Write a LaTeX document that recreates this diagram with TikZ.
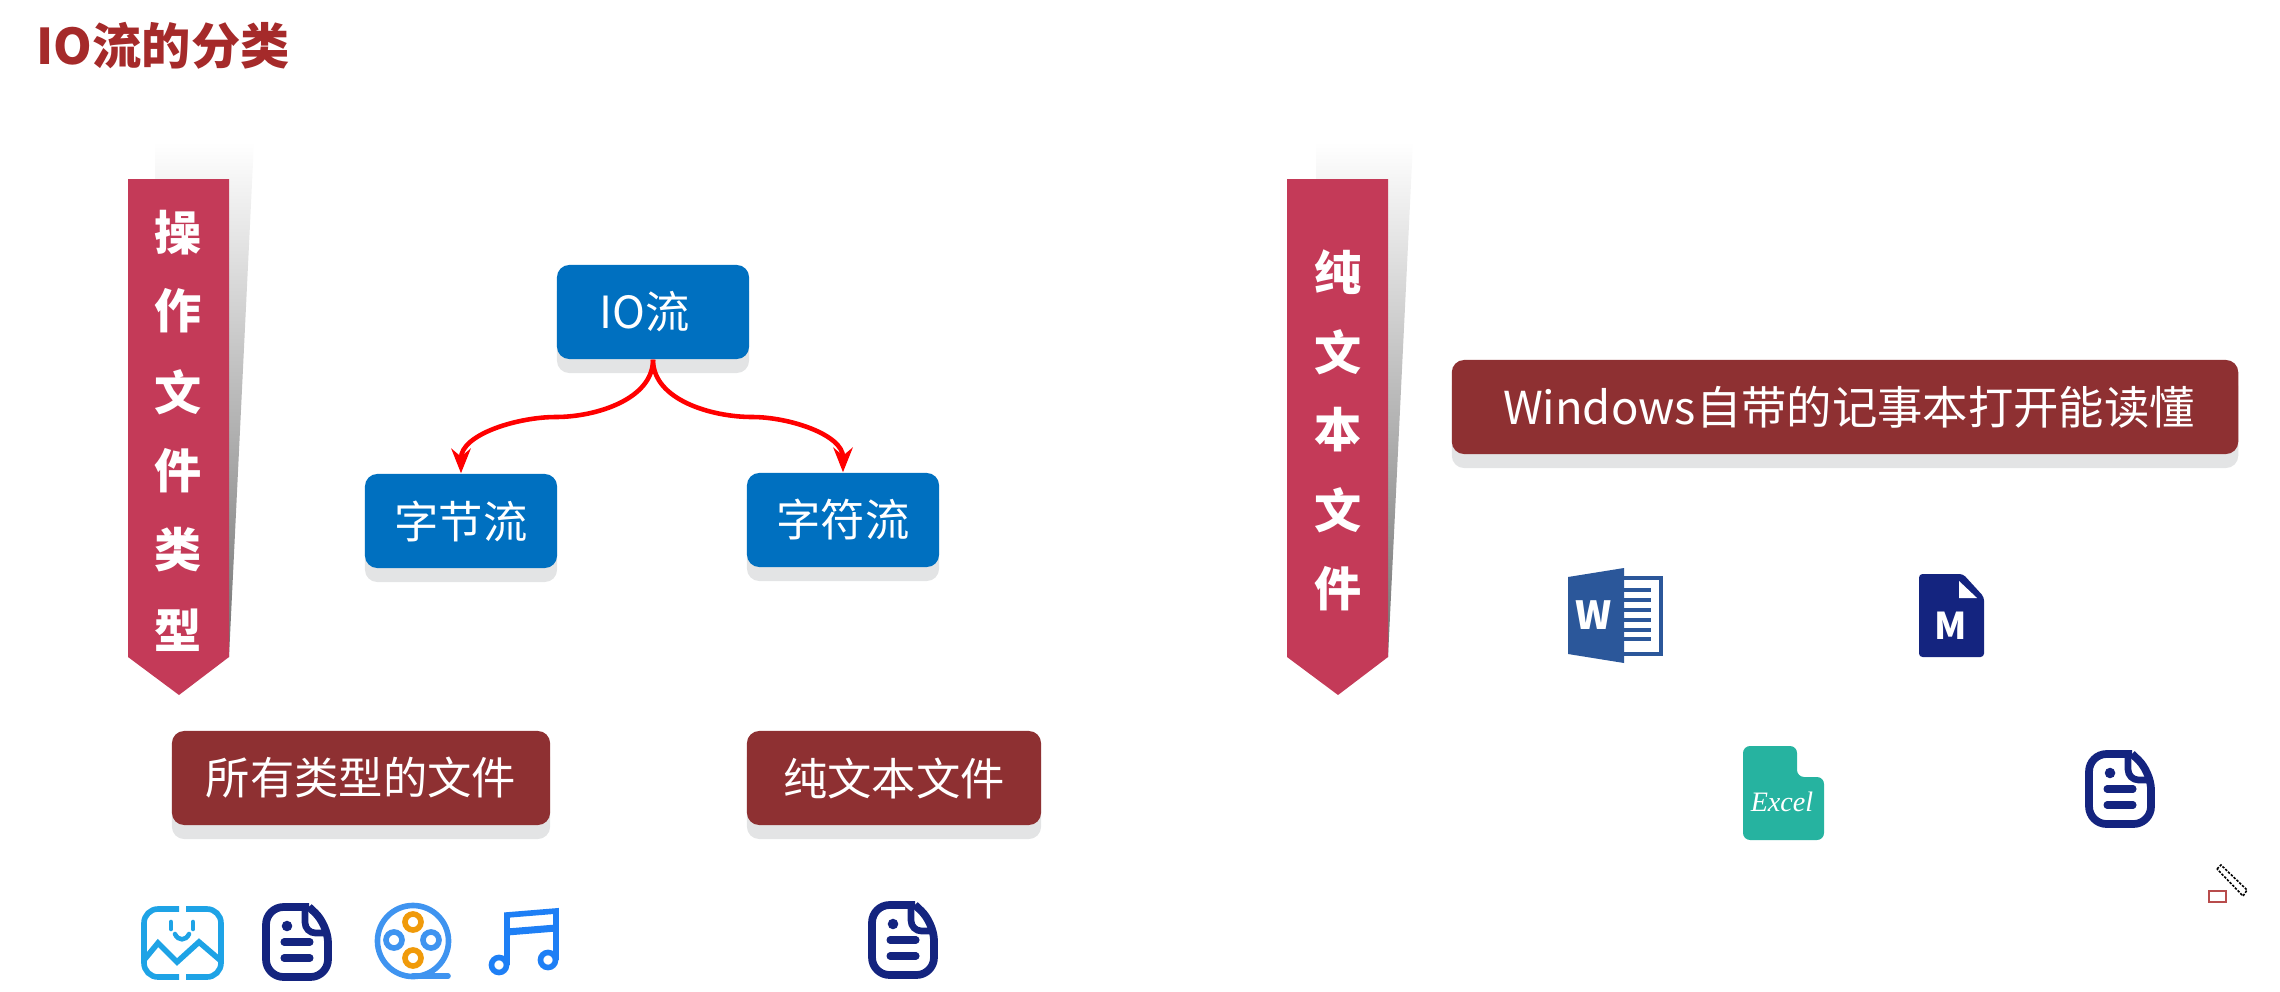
\documentclass[tikz,border=0pt]{standalone}
\usepackage{fontspec}
\usepackage{xcolor}
\setmainfont{Noto Sans CJK SC}
\newfontfamily\excelfont{Liberation Serif}
\usetikzlibrary{arrows.meta,shadows}
\definecolor{titlered}{HTML}{A52A2A}
\definecolor{ribbonred}{HTML}{C43A58}
\definecolor{flowblue}{HTML}{0070C0}
\definecolor{labelred}{HTML}{8E3032}
\definecolor{boxshade}{HTML}{E3E4E5}
\definecolor{docnavy}{HTML}{14247F}
\definecolor{photoblue}{HTML}{1EA3E6}
\definecolor{reelblue}{HTML}{3F94F0}
\definecolor{reelorange}{HTML}{F09A0A}
\definecolor{noteblue}{HTML}{1E7FF5}
\definecolor{wordblue}{HTML}{2B579A}
\definecolor{exceltea}{HTML}{26B3A0}
\tikzset{
  flowbox/.style={fill=flowblue,text=white,rounded corners=3.5pt,minimum width=1.92cm,minimum height=0.94cm,inner sep=0pt,font=\fontsize{12.6}{15}\selectfont,general shadow={fill=boxshade,shadow yshift=-0.14cm}},
  labelbox/.style={fill=labelred,text=white,rounded corners=3.5pt,minimum height=0.94cm,inner sep=0pt,font=\fontsize{12.6}{15}\selectfont,general shadow={fill=boxshade,shadow yshift=-0.14cm}},
  ribbonchar/.style={text=white,inner sep=0pt,font=\fontsize{13.4}{15}\bfseries\selectfont},
  flowarrow/.style={draw=red,line width=1.3pt,-{Stealth[length=7pt,width=5.5pt]}},
  docicon/.pic={
    \draw[docnavy,line width=2.2pt,rounded corners=5pt] (12,-35) -- (-31,-35) -- (-31,35) -- (31,35) -- (31,-17) [sharp corners] -- (12,-35);
    \draw[docnavy,line width=1.9pt,rounded corners=3pt] (8,-34) -- (8,-9) -- (31,-9);
    \fill[docnavy] (-10,-16) circle (1.5pt);
    \draw[docnavy,line width=2pt,line cap=round] (-13,0) -- (13,0);
    \draw[docnavy,line width=2pt,line cap=round] (-13,16) -- (13,16);
  }
}
\begin{document}
\begin{tikzpicture}[x=0.01cm,y=-0.01cm]
  \useasboundingbox (0,0) rectangle (2280,991);
  \node[anchor=west,inner sep=0pt,text=titlered,font=\fontsize{14}{16}\bfseries\selectfont] (iotitle) at (36,46) {IO流的分类};
  % ribbons
  \shade[top color=white,bottom color=black!55] (155,142) -- (254,142) -- (229,657) -- (155,657) -- cycle;
  \shade[top color=white,bottom color=black!55] (1316,142) -- (1413,142) -- (1388,657) -- (1316,657) -- cycle;
  \fill[ribbonred] (128,179) -- (229,179) -- (229,657) -- (179,695) -- (128,657) -- cycle;
  \fill[ribbonred] (1287,179) -- (1388,179) -- (1388,657) -- (1338,695) -- (1287,657) -- cycle;
  \foreach \ch/\cy/\nm in {操/233/a,作/311/b,文/392/c,件/471/d,类/550/e,型/630/f}{
    \node[ribbonchar] (kind\nm) at (178,\cy) {\ch};
  }
  \foreach \ch/\cy/\nm in {纯/272/a,文/352/b,本/430/c,文/510/d,件/589/e}{
    \node[ribbonchar] (plain\nm) at (1338,\cy) {\ch};
  }
  % stream tree
  \node[flowbox] (iostream) at (653,312) {IO流\kern0.16cm};
  \node[flowbox] (bytestream) at (461,521) {字节流};
  \node[flowbox] (charstream) at (843,520) {字符流};
  \coordinate (leftbend) at (556,417);
  \coordinate (rightbend) at (752,417);
  \draw[flowarrow] (iostream.south) to[out=-90,in=0,looseness=0.9] (leftbend) to[out=180,in=90,looseness=0.9] (bytestream.north);
  \draw[flowarrow] (iostream.south) to[out=-90,in=180,looseness=0.9] (rightbend) to[out=0,in=90,looseness=0.9] (charstream.north);
  % labels
  \node[labelbox,minimum width=3.78cm] (allfiles) at (361,778) {所有类型的文件};
  \node[labelbox,minimum width=2.94cm] (textfiles) at (894,778) {纯文本文件};
  \node[labelbox,minimum width=7.86cm,font=\fontsize{12.9}{15}\selectfont] (notepad) at (1845,407) {\kern0.08cm Windows自带的记事本打开能读懂};
  % icons in the bottom row
  \draw[photoblue,line width=1.6pt,rounded corners=4pt] (179,909) -- (144,909) -- (144,977) -- (179,977);
  \draw[photoblue,line width=1.6pt,rounded corners=4pt] (186,909) -- (221,909) -- (221,977) -- (186,977);
  \draw[photoblue,line width=1.6pt] (144,960) -- (158,943) -- (177,962) -- (199,942) -- (220,960);
  \draw[photoblue,line width=1.3pt,line cap=round] (171,922) -- (171,929);
  \draw[photoblue,line width=1.3pt,line cap=round] (193,922) -- (193,929);
  \draw[photoblue,line width=1.3pt,line cap=round] (175,934) .. controls (178,941) and (186,941) .. (189,934);
  \pic at (297,942) {docicon};
  \draw[reelblue,line width=1.6pt] (413,941) circle (0.355cm);
  \draw[reelblue,line width=1.6pt,line cap=round] (413,976) -- (448,976);
  \draw[reelorange,line width=1.6pt] (413,922) circle (0.08cm);
  \draw[reelorange,line width=1.6pt] (413,958) circle (0.08cm);
  \draw[reelblue,line width=1.6pt] (394,940) circle (0.08cm);
  \draw[reelblue,line width=1.6pt] (431,940) circle (0.08cm);
  \draw[noteblue,line width=1.6pt] (507,965) -- (507,915) -- (556,911) -- (556,960);
  \draw[noteblue,line width=2pt] (507,932) -- (556,928);
  \draw[noteblue,line width=1.6pt] (499,965) circle (0.075cm);
  \draw[noteblue,line width=1.6pt] (548,960) circle (0.075cm);
  \pic at (903,940) {docicon};
  % icons on the right
  \draw[wordblue,line width=1pt,fill=white] (1620,578) -- (1661,578) -- (1661,654) -- (1620,654);
  \foreach \ly in {590,600,610,620,630,639}{
    \draw[wordblue,line width=1.2pt] (1624,\ly) -- (1651,\ly);
  }
  \fill[wordblue] (1568,577) -- (1624,568) -- (1624,663) -- (1568,654) -- cycle;
  \node[text=white,inner sep=0pt,font=\fontsize{11}{13}\bfseries\selectfont] (wordmark) at (1594,615) {W};
  \fill[docnavy,rounded corners=1pt] (1919,574) -- (1963,574) -- (1984,597) -- (1984,657) -- (1919,657) -- cycle;
  \fill[white] (1959,581) -- (1977,598) -- (1959,598) -- cycle;
  \node[text=white,inner sep=0pt,font=\fontsize{10.5}{12}\bfseries\selectfont] (markmark) at (1951,626) {M};
  \fill[exceltea,rounded corners=2pt] (1743,746) -- (1797,746) -- (1797,777) -- (1824,777) -- (1824,840) -- (1743,840) -- cycle;
  \node[text=white,inner sep=0pt,font=\excelfont\itshape\fontsize{8}{10}\selectfont] (excelmark) at (1782,802) {Excel};
  \pic at (2120,789) {docicon};
  % pencil pointer
  \draw[black,line width=0.45pt,dash pattern=on 0.7pt off 0.4pt,fill=white] (2217,869) -- (2221,865) -- (2247,890) -- (2243,896) -- cycle;
  \draw[red!60!black!70,line width=0.6pt,fill=white] (2209,891) rectangle (2226,902);
\end{tikzpicture}
\end{document}
